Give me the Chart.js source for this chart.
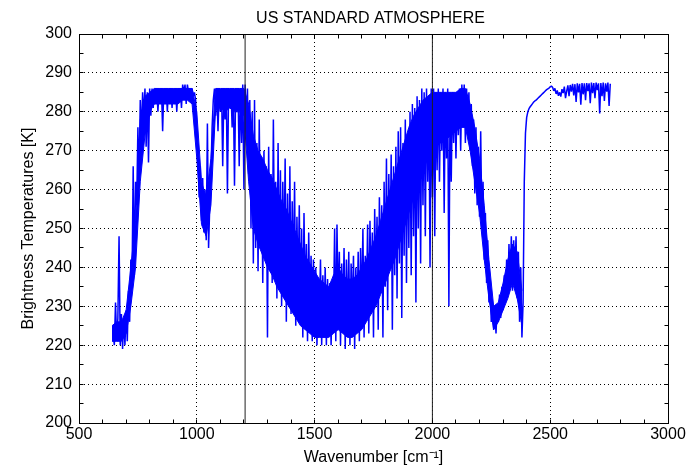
<!DOCTYPE html>
<html>
<head>
<meta charset="utf-8">
<title>US Standard Atmosphere</title>
<script src="https://cdn.jsdelivr.net/npm/chart.js@4.4.0/dist/chart.umd.min.js"></script>
<style>
  html, body { margin: 0; padding: 0; background: #fff; }
  canvas { display: block; }
</style>
</head>
<body>
<canvas id="btChart" width="698" height="467"></canvas>
<script>
const chartTitle = 'US STANDARD ATMOSPHERE';
const xTitle = 'Wavenumber [cm\u207B\u00B9]';
const yTitle = 'Brightness Temperatures [K]';

const xTicks = [500, 1000, 1500, 2000, 2500, 3000];
const yTicks = [200, 210, 220, 230, 240, 250, 260, 270, 280, 290, 300];

// brightness temperature [K], one sample every 5 cm-1 from 645 cm-1
const wnStart = 645;
const wnStep = 5;
const brightnessTemp = [
  223, 220, 231, 221, 227, 248, 220, 228, 219, 227,   // 645
  220, 229, 221, 234, 226, 242, 236, 266, 238, 262,   // 695
  256, 276, 262, 283, 274, 285, 279, 286, 271, 285,   // 745
  267, 286, 279, 286, 281, 286, 283, 286, 280, 286,   // 795
  283, 286, 275, 286, 282, 286, 280, 286, 284, 286,   // 845
  281, 286, 283, 286, 280, 286, 284, 286, 281, 287,   // 895
  285, 287, 282, 287, 285, 286, 283, 286, 284, 285,   // 945
  283, 274, 268, 258, 266, 252, 263, 249, 260, 247,   // 995
  277, 245, 256, 264, 276, 283, 286, 279, 286, 275,   // 1045
  286, 280, 286, 266, 286, 278, 286, 259, 286, 281,   // 1095
  286, 276, 286, 261, 286, 282, 286, 266, 286, 272,   // 1145
  287, 260, 287, 275, 286, 264, 283, 250, 280, 241,   // 1195
  283, 245, 272, 239, 278, 248, 268, 236, 270, 244,   // 1245
  266, 222, 271, 240, 264, 236, 278, 243, 262, 232,   // 1295
  272, 237, 265, 230, 262, 241, 268, 226, 259, 233,   // 1345
  266, 228, 257, 236, 262, 225, 253, 233, 256, 226,   // 1395
  250, 222, 254, 231, 246, 221, 249, 229, 243, 221,   // 1445
  242, 227, 240, 220, 236, 228, 242, 220, 238, 225,   // 1495
  240, 220, 237, 226, 236, 220, 233, 228, 250, 221,   // 1545
  251, 230, 244, 220, 241, 227, 245, 219, 242, 225,   // 1595
  244, 220, 241, 228, 243, 219, 240, 226, 244, 221,   // 1645
  245, 229, 250, 222, 243, 231, 251, 223, 252, 233,   // 1695
  249, 222, 255, 236, 253, 224, 258, 238, 256, 222,   // 1745
  262, 235, 268, 229, 264, 240, 269, 224, 266, 238,   // 1795
  271, 232, 275, 241, 276, 227, 272, 243, 278, 236,   // 1845
  274, 245, 280, 238, 282, 248, 281, 231, 284, 250,   // 1895
  283, 241, 286, 256, 285, 248, 286, 262, 284, 240,   // 1945
  286, 258, 286, 248, 285, 265, 286, 262, 285, 270,   // 1995
  286, 254, 285, 268, 286, 230, 284, 262, 285, 272,   // 2045
  284, 268, 285, 274, 286, 270, 287, 276, 287, 272,   // 2095
  286, 277, 285, 270, 282, 266, 278, 259, 276, 256,   // 2145
  271, 253, 275, 250, 262, 242, 254, 236, 247, 231,   // 2195
  234, 226, 231, 224, 229, 223, 230, 226, 233, 227,   // 2245
  235, 229, 238, 231, 242, 233, 246, 236, 248, 234,   // 2295
  247, 238, 248, 232, 244, 226, 240, 222, 231, 262,   // 2345
  274.5, 278.5, 280.0, 280.8, 281.3, 281.7, 282.1, 282.5, 282.8, 283.0,   // 2395
  283.3, 283.6, 283.9, 284.2, 284.5, 284.8, 285.1, 285.4, 285.7, 285.9,   // 2445
  286.1, 286.4, 286.6, 286.3, 285.4, 286.0, 284.6, 285.5, 284.1, 285.0,   // 2495
  283.9, 285.8, 284.8, 286.5, 283.5, 285.3, 286.8, 284.0, 286.9, 285.2,   // 2545
  287.2, 284.2, 287.1, 282.5, 287.3, 285.0, 287.2, 281.8, 287.4, 284.5,   // 2595
  287.3, 283.0, 287.4, 285.3, 287.3, 282.2, 287.5, 284.8, 287.4, 283.5,   // 2645
  287.5, 285.6, 287.3, 279.6, 287.4, 284.0, 287.5, 282.8, 287.3, 285.2,   // 2695
  287.5, 281.5, 287.2                                                    // 2745
];

// dense part of the line forest: upper / lower edge [K], every 20 cm-1 from 640 cm-1
const coreStart = 640;
const coreStep = 20;
const coreTop = [
  225, 226, 226, 229, 240, 252, 278, 284, 285, 286,   // 640
  286, 286, 286, 286, 286, 286, 286, 286, 280, 262,   // 840
  258, 268, 286, 286, 286, 286, 286, 286, 286, 282,   // 1040
  274, 270, 268, 265, 263, 260, 257, 255, 252, 249,   // 1240
  246, 243, 241, 239, 237, 236, 235, 238, 240, 238,   // 1440
  237, 237, 238, 240, 242, 245, 248, 252, 256, 260,   // 1640
  264, 268, 272, 276, 279, 281, 283, 284, 285, 285,   // 1840
  285, 285, 285, 285, 286, 286, 282, 276, 268, 256,   // 2040
  242, 230, 231, 236, 242, 246, 244, 234              // 2240
];
const coreBottom = [
  221, 221, 221, 223, 230, 240, 262, 274, 280, 282,   // 640
  282, 282, 282, 282, 282, 283, 283, 282, 268, 251,   // 840
  248, 256, 281, 281, 280, 281, 280, 280, 279, 262,   // 1040
  250, 246, 243, 240, 238, 235, 233, 231, 229, 227,   // 1240
  225, 224, 223, 222, 222, 222, 222, 223, 224, 223,   // 1440
  222, 222, 223, 224, 226, 228, 230, 233, 236, 239,   // 1640
  242, 246, 250, 254, 258, 262, 265, 268, 270, 272,   // 1840
  272, 273, 274, 275, 276, 276, 270, 262, 254, 242,   // 2040
  232, 224, 226, 229, 232, 236, 232, 225              // 2240
];

// band edges drawn as solid vertical lines [cm-1]
const markerLines = [1205, 2000];

const xMin = 500, xMax = 3000;
const yMin = 200, yMax = 300;

const spectrum = brightnessTemp.map((t, i) => ({ x: wnStart + i * wnStep, y: t }));
const coreHi = coreTop.map((t, i) => ({ x: coreStart + i * coreStep, y: t }));
const coreLo = coreBottom.map((t, i) => ({ x: coreStart + i * coreStep, y: t }));

const FONT = '"Liberation Sans", Arial, sans-serif';
Chart.defaults.font.family = FONT;
Chart.defaults.font.size = 16;
Chart.defaults.color = '#000';

const BLUE = '#0000ff';

function crisp(v) {
  return Math.round(v - 0.5) + 0.5;
}

// closes the box, adds inward minor ticks and the title
const frame = {
  id: 'frame',
  afterDraw(chart) {
    const { ctx, chartArea: a, scales: { x, y } } = chart;
    const L = crisp(a.left), R = crisp(a.right), T = crisp(a.top), B = crisp(a.bottom);
    ctx.save();
    ctx.strokeStyle = '#000';
    ctx.lineWidth = 1;
    ctx.beginPath();
    ctx.moveTo(L, T); ctx.lineTo(R, T); ctx.lineTo(R, B);
    for (let v = xMin + 100; v < xMax; v += 100) {
      const px = crisp(x.getPixelForValue(v));
      ctx.moveTo(px, B); ctx.lineTo(px, B - 4);
      ctx.moveTo(px, T); ctx.lineTo(px, T + 4);
    }
    for (let v = yMin + 5; v < yMax; v += 5) {
      const py = crisp(y.getPixelForValue(v));
      ctx.moveTo(L, py); ctx.lineTo(L + 4, py);
      ctx.moveTo(R, py); ctx.lineTo(R - 4, py);
    }
    ctx.stroke();

    ctx.fillStyle = '#000';
    ctx.font = '16px ' + FONT;
    ctx.textAlign = 'center';
    ctx.textBaseline = 'alphabetic';
    ctx.fillText(chartTitle, (a.left + a.right) / 2 - 3, 23);
    ctx.restore();
  }
};

new Chart(document.getElementById('btChart'), {
  type: 'line',
  data: {
    datasets: [
      ...markerLines.map(w => ({
        data: [{ x: w, y: yMin }, { x: w, y: yMax }],
        borderColor: '#202020',
        borderWidth: 1,
        pointRadius: 0,
        order: 1
      })),
      {
        data: coreHi,
        borderColor: BLUE,
        borderWidth: 1,
        backgroundColor: BLUE,
        pointRadius: 0,
        fill: '+1',
        order: 3
      },
      {
        data: coreLo,
        borderColor: BLUE,
        borderWidth: 1,
        pointRadius: 0,
        fill: false,
        order: 3
      },
      {
        data: spectrum,
        borderColor: BLUE,
        borderWidth: 1.5,
        borderJoinStyle: 'bevel',
        pointRadius: 0,
        tension: 0,
        fill: false,
        order: 2
      }
    ]
  },
  options: {
    responsive: false,
    animation: false,
    events: [],
    layout: { padding: { top: 34, right: 30, left: 0, bottom: 0 } },
    plugins: {
      legend: { display: false },
      tooltip: { enabled: false }
    },
    scales: {
      x: {
        type: 'linear',
        min: xMin,
        max: xMax,
        afterBuildTicks: s => { s.ticks = xTicks.map(v => ({ value: v })); },
        afterFit: s => { s.height = 44; },
        grid: { color: '#000', lineWidth: 1, drawTicks: false },
        border: { color: '#000', width: 1, dash: [1, 3] },
        ticks: { padding: 2, maxRotation: 0, callback: v => String(v) },
        title: { display: true, text: xTitle, padding: { top: 0, bottom: 0 } }
      },
      y: {
        min: yMin,
        max: yMax,
        afterBuildTicks: s => { s.ticks = yTicks.map(v => ({ value: v })); },
        afterFit: s => { s.width = 79; },
        grid: { color: '#000', lineWidth: 1, drawTicks: false },
        border: { color: '#000', width: 1, dash: [1, 3] },
        ticks: { padding: 7, callback: v => String(v) },
        title: { display: true, text: yTitle, padding: { top: 19, bottom: 0 } }
      }
    }
  },
  plugins: [frame]
});
</script>
</body>
</html>
